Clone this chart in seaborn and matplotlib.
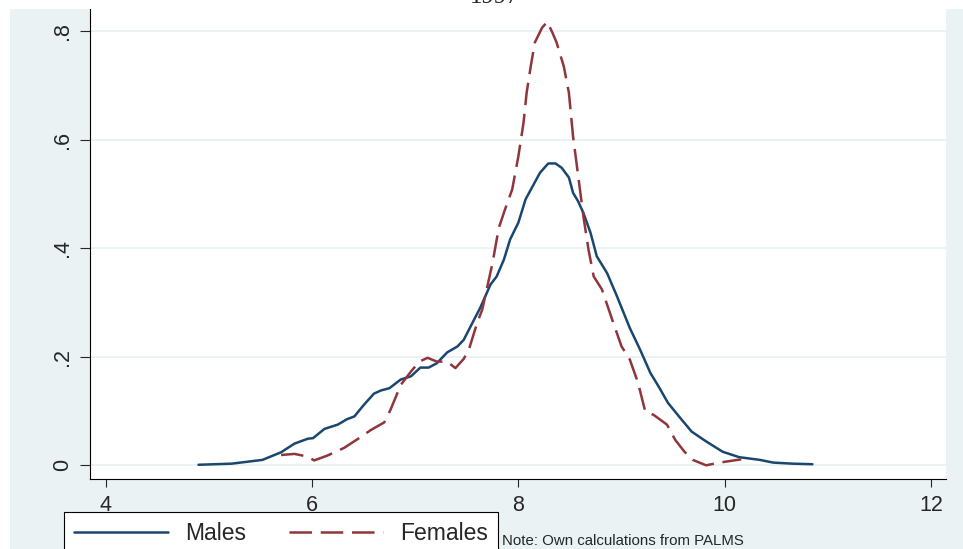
import matplotlib
matplotlib.use("Agg")
import matplotlib.pyplot as plt
from matplotlib.lines import Line2D
from matplotlib.patches import Rectangle
import pandas as pd
import seaborn as sns

# kernel density of log wages
males_x = [4.90, 5.22, 5.52, 5.70, 5.83, 5.96, 6.01, 6.12, 6.25, 6.34, 6.41, 6.51,
           6.60, 6.67, 6.75, 6.86, 6.96, 7.05, 7.13, 7.21, 7.31, 7.41, 7.47, 7.57,
           7.63, 7.73, 7.79, 7.86, 7.92, 8.00, 8.07, 8.13, 8.21, 8.29, 8.36, 8.42,
           8.49, 8.53, 8.58, 8.63, 8.70, 8.76, 8.86, 8.95, 9.08, 9.18, 9.28, 9.36,
           9.45, 9.57, 9.68, 9.82, 9.98, 10.14, 10.34, 10.47, 10.66, 10.85]
males_y = [0.001, 0.003, 0.010, 0.024, 0.040, 0.049, 0.050, 0.067, 0.075, 0.085, 0.090, 0.113,
           0.132, 0.138, 0.142, 0.158, 0.164, 0.180, 0.180, 0.188, 0.208, 0.219, 0.231, 0.268,
           0.290, 0.333, 0.348, 0.379, 0.416, 0.447, 0.490, 0.511, 0.539, 0.556, 0.556, 0.548,
           0.530, 0.502, 0.486, 0.465, 0.428, 0.385, 0.354, 0.314, 0.253, 0.213, 0.170, 0.145,
           0.115, 0.087, 0.062, 0.044, 0.025, 0.015, 0.010, 0.005, 0.003, 0.002]

females_x = [5.70, 5.83, 5.96, 6.02, 6.15, 6.31, 6.44, 6.57, 6.70, 6.76, 6.86, 6.96,
             7.04, 7.12, 7.21, 7.31, 7.39, 7.47, 7.52, 7.60, 7.65, 7.75, 7.81, 7.87,
             7.94, 8.00, 8.05, 8.08, 8.12, 8.16, 8.23, 8.28, 8.33, 8.37, 8.44, 8.49,
             8.53, 8.58, 8.63, 8.68, 8.73, 8.81, 8.91, 9.00, 9.08, 9.16, 9.23, 9.31,
             9.44, 9.52, 9.61, 9.69, 9.82, 9.95, 10.16]
females_y = [0.019, 0.021, 0.016, 0.009, 0.018, 0.032, 0.048, 0.065, 0.079, 0.102, 0.148, 0.173,
             0.191, 0.198, 0.191, 0.191, 0.179, 0.196, 0.213, 0.262, 0.287, 0.373, 0.437, 0.471,
             0.508, 0.569, 0.631, 0.686, 0.735, 0.779, 0.806, 0.817, 0.797, 0.779, 0.735, 0.686,
             0.606, 0.533, 0.459, 0.397, 0.348, 0.324, 0.268, 0.219, 0.195, 0.152, 0.099, 0.093,
             0.075, 0.047, 0.025, 0.010, 0.000, 0.005, 0.011]

x_ticks = [4, 6, 8, 10, 12]
y_ticks = [0, 0.2, 0.4, 0.6, 0.8]
y_tick_labels = ["0", ".2", ".4", ".6", ".8"]

NAVY = "#1a476f"
MAROON = "#90353b"
BG = "#eaf2f3"

sns.set_style("white")
plt.rcParams["font.family"] = ["Liberation Sans", "DejaVu Sans"]

W, H = 963, 549
fig = plt.figure(figsize=(W / 100, H / 100), dpi=100, facecolor="white")
fig.add_artist(Rectangle((10 / W, 0), 1, (H - 9) / H, transform=fig.transFigure,
                         facecolor=BG, edgecolor="none", zorder=0))

ax = fig.add_axes([90 / W, (H - 478.5) / H, 856 / W, 469.5 / H])
ax.set_facecolor("white")

males = pd.DataFrame({"x": males_x, "y": males_y})
females = pd.DataFrame({"x": females_x, "y": females_y})

sns.lineplot(data=males, x="x", y="y", ax=ax, color=NAVY, lw=1.8, sort=False, estimator=None)
sns.lineplot(data=females, x="x", y="y", ax=ax, color=MAROON, lw=1.8, sort=False,
             estimator=None)
ax.lines[-1].set_dashes((9, 3.5))

ax.set_xlim(3.848, 12.145)
ax.set_ylim(-0.0243, 0.8405)
ax.set_xticks(x_ticks)
ax.set_xticklabels([str(t) for t in x_ticks])
ax.set_yticks(y_ticks)
ax.set_yticklabels(y_tick_labels)
for t in ax.get_yticklabels():
    t.set_rotation(90)
    t.set_va("center")
ax.set_xlabel("")
ax.set_ylabel("")
ax.grid(axis="y", color=BG, lw=1.4)
ax.set_axisbelow(True)
ax.tick_params(axis="x", length=6, width=0.8, pad=6, labelsize=15.5, direction="out", bottom=True)
ax.tick_params(axis="y", length=7.2, width=0.8, pad=5, labelsize=15.5, direction="out", left=True)
for s in ["top", "right"]:
    ax.spines[s].set_visible(False)
for s in ["left", "bottom"]:
    ax.spines[s].set_color("black")
    ax.spines[s].set_linewidth(0.8)

handles = [Line2D([], [], color=NAVY, lw=1.8),
           Line2D([], [], color=MAROON, lw=1.8, dashes=(9, 3.5))]
leg = fig.legend(handles, ["Males", "Females"], ncol=2, loc="upper left",
                 bbox_to_anchor=(64 / W, 1 - 512 / H), fontsize=16.5, frameon=True,
                 fancybox=False, framealpha=1, edgecolor="black", borderpad=0.45,
                 handlelength=4.1, handletextpad=0.75, columnspacing=1.85, borderaxespad=0)
leg.get_frame().set_linewidth(0.8)

fig.text(502 / W, 1 - 545 / H, "Note: Own calculations from PALMS", fontsize=10.8,
         ha="left", va="baseline")
fig.text(495 / W, 1 - 3 / H, "1997", fontsize=18, family="Liberation Serif",
         ha="center", va="baseline")

fig.savefig("out.png", dpi=100, facecolor=fig.get_facecolor())
